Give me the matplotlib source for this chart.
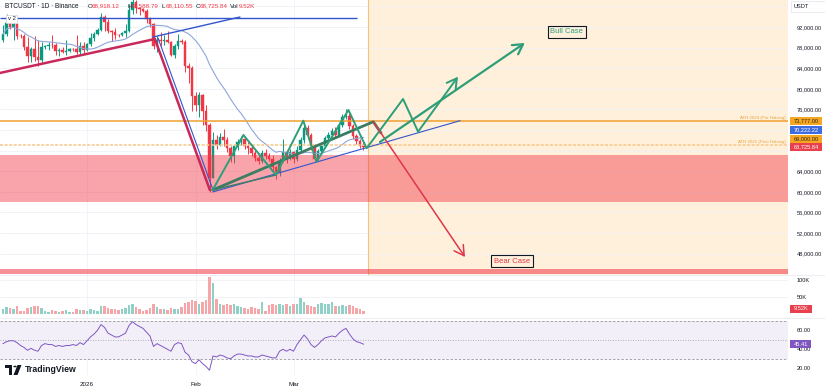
import matplotlib

matplotlib.use("Agg")
import matplotlib.pyplot as plt
import numpy as np
import pandas as pd
from matplotlib.lines import Line2D
from matplotlib.patches import Circle, Polygon, Rectangle

plt.rcParams["font.family"] = ["Liberation Sans", "DejaVu Sans"]

W, H = 825, 391

# daily candles, x = days since 2026-01-01 (first candle is 2025-12-08)
FIRST_DAY = -24
FIRST_OPEN = 89400
CLOSES = [
    90600, 92700, 92000, 92500, 90300, 90250, 88200, 86400, 87800, 86100,
    85500, 88100, 88300, 88600, 88500, 87400, 87600, 87200, 87300, 87800,
    87750, 87100, 88400, 87600, 88700, 89900, 90600, 91500, 93900, 93000,
    91300, 91000, 90500, 90400, 90800, 91200, 95300, 96900, 95600, 95500,
    95100, 93600, 92600, 88300, 89400, 89300, 89500, 89100, 86600, 88300,
    89200, 89100, 84500, 84100, 78600, 76900, 78700, 75600, 73000, 62700,
    70000, 69100, 70600, 70100, 68500, 66900, 68800, 69700, 70200, 68900,
    68600, 67600, 66600, 65900, 67500, 66900, 66300, 64900, 63800, 66000,
    67800, 66700, 67700, 66300, 68200, 70100, 72300, 71000, 68800, 66400,
    67900, 68900, 70500, 71000, 71900, 71100, 73000, 74500, 74800, 72800,
    70800, 69800, 68918.12, 68725.84,
]
HIGHS = [
    92300, 94500, 94400, 93500, 92700, 90700, 90600, 90000, 88200, 90300,
    89400, 89000, 88600, 89000, 90500, 88900, 88000, 88100, 89400, 87900,
    88000, 90400, 89000, 89000, 88900, 90900, 91000, 91800, 94800, 94400,
    93600, 91500, 91900, 90700, 91100, 92500, 96400, 97900, 97200, 95900,
    95600, 95500, 93900, 92800, 90300, 91000, 90400, 91200, 89200, 88700,
    90600, 89600, 89400, 85000, 84400, 79300, 79300, 79000, 76900, 73400,
    71700, 71000, 71400, 72100, 70600, 68900, 69100, 70300, 70900, 70500,
    69700, 69000, 68200, 67500, 68100, 68300, 67600, 67100, 65000, 66600,
    70200, 68200, 68400, 68000, 68900, 70600, 73000, 72900, 71500, 69300,
    68400, 69400, 70900, 71600, 72400, 72600, 73500, 75100, 76000, 75300,
    73200, 71300, 70200, 69588.79,
]
LOWS = [
    89100, 90300, 91600, 89400, 89600, 89800, 87600, 85300, 85300, 85400,
    84500, 85200, 87800, 87600, 87900, 86600, 86400, 86900, 86600, 87200,
    87400, 86800, 86800, 87000, 87400, 88300, 89300, 90500, 91300, 91300,
    90800, 89300, 89600, 90100, 90200, 90000, 91000, 94600, 94800, 94300,
    94900, 92800, 92000, 87800, 87200, 88400, 88600, 88800, 86300, 86000,
    87800, 88700, 83300, 81100, 75700, 75600, 74600, 72900, 71900, 60000,
    62700, 68300, 68800, 68900, 67800, 65800, 65500, 68200, 69000, 68300,
    67300, 67000, 66000, 65400, 65500, 66400, 65900, 64200, 62500, 63100,
    65800, 65600, 66200, 65600, 65900, 67800, 69500, 70300, 68100, 65900,
    66100, 67400, 68500, 70000, 70600, 70700, 70900, 72600, 74100, 72100,
    70300, 69200, 68500, 68110.55,
]
VOLUMES_K = [
    14, 20, 18, 16, 22, 8, 10, 18, 20, 22, 24, 17, 8, 7, 12, 10,
    7, 8, 12, 5, 6, 14, 12, 11, 10, 14, 12, 9, 22, 24, 18, 15,
    14, 13, 15, 17, 26, 28, 20, 14, 10, 12, 18, 28, 20, 16, 14, 12,
    18, 15, 14, 20, 32, 36, 40, 38, 30, 34, 42, 108, 90, 45, 28, 26,
    30, 25, 28, 22, 20, 18, 16, 20, 18, 14, 36, 10, 26, 28, 27, 30,
    25, 30, 24, 28, 30, 46, 34, 26, 22, 20, 30, 32, 28, 30, 34, 24,
    22, 26, 24, 26, 22, 18, 14, 9.52,
]
RSI = [
    46, 48, 49, 49, 47, 44, 42, 39, 41, 39, 38, 44, 46, 45, 45, 43,
    44, 43, 44, 44, 45, 44, 47, 45, 49, 53, 56, 60, 66, 63, 57, 55,
    53, 53, 55, 57, 65, 69, 66, 64, 62, 58, 54, 43, 46, 44, 42, 40,
    38, 45, 47, 46, 37, 34, 27, 25, 29, 25, 22, 18, 33, 32, 34, 33,
    31, 30, 33, 35, 35, 34, 33, 33, 32, 32, 34, 33, 32, 31, 31, 38,
    40, 38, 40, 38, 45, 50, 55, 51, 45, 42, 45, 49, 52, 53, 54, 53,
    57, 60, 62, 56, 51, 48, 47, 45.41,
]

TIME_TICKS = [0, 31, 59]
TIME_LABELS = ["2026", "Feb", "Mar"]
PRICE_TICKS = [48000, 52000, 56000, 60000, 64000, 76000, 80000, 84000, 88000, 92000]
PRICE_GRID = list(range(48000, 100000, 4000))

# horizontal levels and zones
TOP_LINE = 93750
ATH_2024 = 73777
ATH_2021 = 69000
RED_ZONE = (58000, 67150)
RED_FLOOR = (44100, 44950)
FUTURE_START = 80.3

# hand-drawn annotations as (day, price)
SUPPORT_RED = [(-24.9, 83070), (19.4, 89670), (35.1, 60350)]
DROP_BLUE = [(20.3, 89860), (36.0, 60350)]
RISE_BLUE = [(18.9, 90060), (43.7, 93940)]
ZIGZAG = [(35.9, 60350), (44.7, 71030), (54.0, 63260), (61.8, 73810),
          (65.6, 65850), (74.7, 75880), (79.9, 68450), (90.3, 78020),
          (94.6, 71670), (106.0, 82350)]
CHANNEL = [(35.9, 60350), (81.8, 73600), (84.0, 71420)]
CHANNEL_LOW = [(35.9, 60350), (54.0, 63260)]
SUPPORT_BLUE = [(35.9, 59960), (106.6, 73810)]
BEAR = [(81.8, 73600), (108.0, 47340)]
BULL = [(83.7, 69670), (125.1, 88900)]

UP, DOWN = "#089981", "#F23645"
TXT = "#131722"

days = np.arange(FIRST_DAY, FIRST_DAY + len(CLOSES))
closes = np.array(CLOSES)
opens = np.array([FIRST_OPEN] + CLOSES[:-1])
rising = closes >= opens
ma = pd.Series(CLOSES).rolling(20, min_periods=1).mean()


def fx(x):
    return x / W


def fy(y):
    return 1 - y / H


fig = plt.figure(figsize=(W / 100, H / 100), dpi=100)
fig.patch.set_facecolor("white")
chart_w = 788 / W
ax_p = fig.add_axes([0, fy(275), chart_w, 275 / H])
ax_v = fig.add_axes([0, fy(318), chart_w, 43 / H])
ax_r = fig.add_axes([0, fy(375), chart_w, 57 / H])

xlim = (-24.86, 200.29)
for ax in (ax_p, ax_v, ax_r):
    ax.set_xlim(*xlim)
    for s in ax.spines.values():
        s.set_visible(False)
    ax.yaxis.tick_right()
    ax.tick_params(axis="y", length=0, labelsize=4.1, pad=6, colors=TXT)
    ax.tick_params(axis="x", length=0, labelbottom=False)
    ax.set_xticks(TIME_TICKS)
    ax.grid(axis="x", color="#F0F3FA", lw=0.6, zorder=0)
    ax.set_axisbelow(True)

# ---- price pane
ax_p.set_ylim(43845, 97243)
ax_p.axvspan(FUTURE_START, xlim[1], color="#FFF0DB", zorder=0, lw=0)
ax_p.axvline(FUTURE_START, color="#F5C27A", lw=0.8, zorder=1)
for g in PRICE_GRID:
    ax_p.axhline(g, color="#F0F1F5", lw=0.6, zorder=0.5)
ax_p.set_yticks(PRICE_TICKS)
ax_p.set_yticklabels([f"{v:,.2f}" for v in PRICE_TICKS])

candle_col = np.where(rising, UP, DOWN)
ax_p.vlines(days, LOWS, HIGHS, colors=candle_col, lw=0.7, zorder=3)
ax_p.bar(days, np.abs(closes - opens), bottom=np.minimum(opens, closes), width=0.8,
         color=candle_col, edgecolor=candle_col, lw=0.3, zorder=3)
ax_p.plot(days, ma, color="#8FA6DA", lw=0.8, zorder=3.5)

ax_p.axhspan(*RED_ZONE, color=DOWN, alpha=0.45, lw=0, zorder=3.2)
ax_p.axhspan(*RED_FLOOR, color=DOWN, alpha=0.55, lw=0, zorder=3.2)
ax_p.hlines(TOP_LINE, xlim[0], 77.1, color="#3355CC", lw=1.0, zorder=4)
ax_p.axhline(ATH_2024, color="#F0A030", lw=1.1, zorder=4)
ax_p.axhline(ATH_2021, color="#F6C88A", lw=1.1, ls=(0, (2, 1)), zorder=4)
ax_p.text(199.6, ATH_2024 + 250, "ATH 2024 (Pre Halving)", ha="right", va="bottom",
          fontsize=3.2, color="#E8A33D", zorder=5)
ax_p.text(199.6, ATH_2021 + 250, "ATH 2021 (Post Halving)", ha="right", va="bottom",
          fontsize=3.2, color="#E8A33D", zorder=5)


def poly(pts, **kw):
    xs, ys = zip(*pts)
    ax_p.plot(xs, ys, solid_capstyle="round", zorder=kw.pop("zorder", 4), **kw)


def arrow(p0, p1, color, lw):
    ax_p.annotate("", xy=p1, xytext=p0, zorder=4.5,
                  arrowprops=dict(arrowstyle="->,head_length=0.7,head_width=0.4",
                                  color=color, lw=lw, shrinkA=0, shrinkB=0))


poly(SUPPORT_RED, color="#C8285A", lw=1.8)
poly(DROP_BLUE, color="#3355CC", lw=0.8)
poly(RISE_BLUE, color="#3355CC", lw=1.0)
poly(SUPPORT_BLUE, color="#3355CC", lw=0.8)
poly(CHANNEL, color="#3A7D63", lw=2.0)
poly(CHANNEL_LOW, color="#3A7D63", lw=1.0)
arrow(BEAR[0], BEAR[1], "#E0364A", 1.1)
poly(ZIGZAG[:-1], color="#2E9E78", lw=1.4, zorder=4.4)
arrow(ZIGZAG[-2], ZIGZAG[-1], "#2E9E78", 1.4)
arrow(BULL[0], BULL[1], "#2E9E78", 1.6)

ax_p.text(137.1, 91030, "Bull Case", ha="center", va="center", fontsize=5.5,
          color="#2E9E78", zorder=6,
          bbox=dict(boxstyle="square,pad=0.35", fc="none", ec=TXT, lw=0.8))
ax_p.text(121.4, 46560, "Bear Case", ha="center", va="center", fontsize=5.5,
          color="#E0364A", zorder=6,
          bbox=dict(boxstyle="square,pad=0.35", fc="none", ec=TXT, lw=0.8))

# ---- volume pane
ax_v.set_ylim(-12, 115)
ax_v.bar(days, VOLUMES_K, width=0.8, color=np.where(rising, "#8FD1C7", "#F6A6A8"), zorder=2)
ax_v.set_yticks([50, 100])
ax_v.set_yticklabels(["50K", "100K"])
for g in (50, 100):
    ax_v.axhline(g, color="#F0F1F5", lw=0.6, zorder=0.5)

# ---- RSI pane
ax_r.set_ylim(13, 72.9)
ax_r.axhspan(30, 70, color="#7E57C2", alpha=0.09, lw=0, zorder=0.5)
for lvl, st in ((70, (0, (3, 2))), (30, (0, (3, 2))), (50, (0, (1, 2)))):
    ax_r.axhline(lvl, color="#9598A1", lw=0.6, ls=st, zorder=1)
ax_r.plot(days, RSI, color="#7E57C2", lw=0.7, zorder=3)
ax_r.set_yticks([20, 40, 60])
ax_r.set_yticklabels(["20.00", "40.00", "60.00"])
ax_r.tick_params(axis="x", labelbottom=True, labelsize=4.5, pad=5, colors=TXT)
ax_r.set_xticklabels(TIME_LABELS)

for y in (275, 318):
    fig.add_artist(Line2D([0, 1], [fy(y), fy(y)], color="#E6E8EE", lw=0.5))


# ---- right axis tags
def tag(y, text, bg, fg, x0=790, w=32, h=8):
    fig.add_artist(Rectangle((fx(x0), fy(y + h / 2)), w / W, h / H,
                             transform=fig.transFigure, fc=bg, ec="none", zorder=10))
    fig.text(fx(x0 + w / 2), fy(y), text, ha="center", va="center", fontsize=4.1,
             color=fg, zorder=11)


tag(121, "73,777.00", "#F5A623", "#3A2A10")
tag(130, "70,222.22", "#3D6BE0", "white")
tag(138.5, "69,000.00", "#F5A623", "#3A2A10")
tag(147, "68,725.84", "#E8404C", "white")
tag(309, "9.52K", "#E8404C", "white", w=22)
tag(344, "45.41", "#7E57C2", "white", w=21)

fig.add_artist(Rectangle((fx(791), fy(12)), 34 / W, 11 / H, transform=fig.transFigure,
                         fc="white", ec="#E0E3EB", lw=0.5, zorder=10))
fig.text(fx(794), fy(6.5), "USDT", ha="left", va="center", fontsize=4.1,
         color=TXT, zorder=11)

# ---- header legend
hy = fy(6)
fig.text(fx(5), hy, "BTCUSDT · 1D · Binance", fontsize=4.7, color=TXT, va="center")
for x, lab, val in ((88, "O", "68,918.12"), (127, "H", "69,588.79"),
                    (162, "L", "68,110.55"), (196, "C", "68,725.84"),
                    (230, "Vol", "9.52K")):
    fig.text(fx(x), hy, lab, fontsize=4.5, color=TXT, va="center")
    fig.text(fx(x + (9 if lab == "Vol" else 3.5)), hy, val, fontsize=4.5,
             color=DOWN, va="center")
fig.text(fx(11.5), fy(19), "v 2", fontsize=4.2, color=TXT, ha="center", va="center",
         bbox=dict(boxstyle="square,pad=0.25", fc="white", ec="#D1D4DC", lw=0.5))

# ---- TradingView logo
logo = [
    Rectangle((fx(5), fy(368)), 7 / W, 3 / H),
    Rectangle((fx(9), fy(375)), 3 / W, 10 / H),
    Circle((fx(15), fy(366.5)), 1.7 / W),
    Polygon([(fx(17.5), fy(365)), (fx(21.5), fy(365)), (fx(17.5), fy(375)),
             (fx(13.5), fy(375))]),
]
for p in logo:
    p.set_transform(fig.transFigure)
    p.set_facecolor(TXT)
    p.set_edgecolor("none")
    fig.add_artist(p)
fig.text(fx(25), fy(370), "TradingView", fontsize=6.3, fontweight="bold",
         color=TXT, va="center")

fig.savefig("out.png", dpi=100, facecolor="white")
